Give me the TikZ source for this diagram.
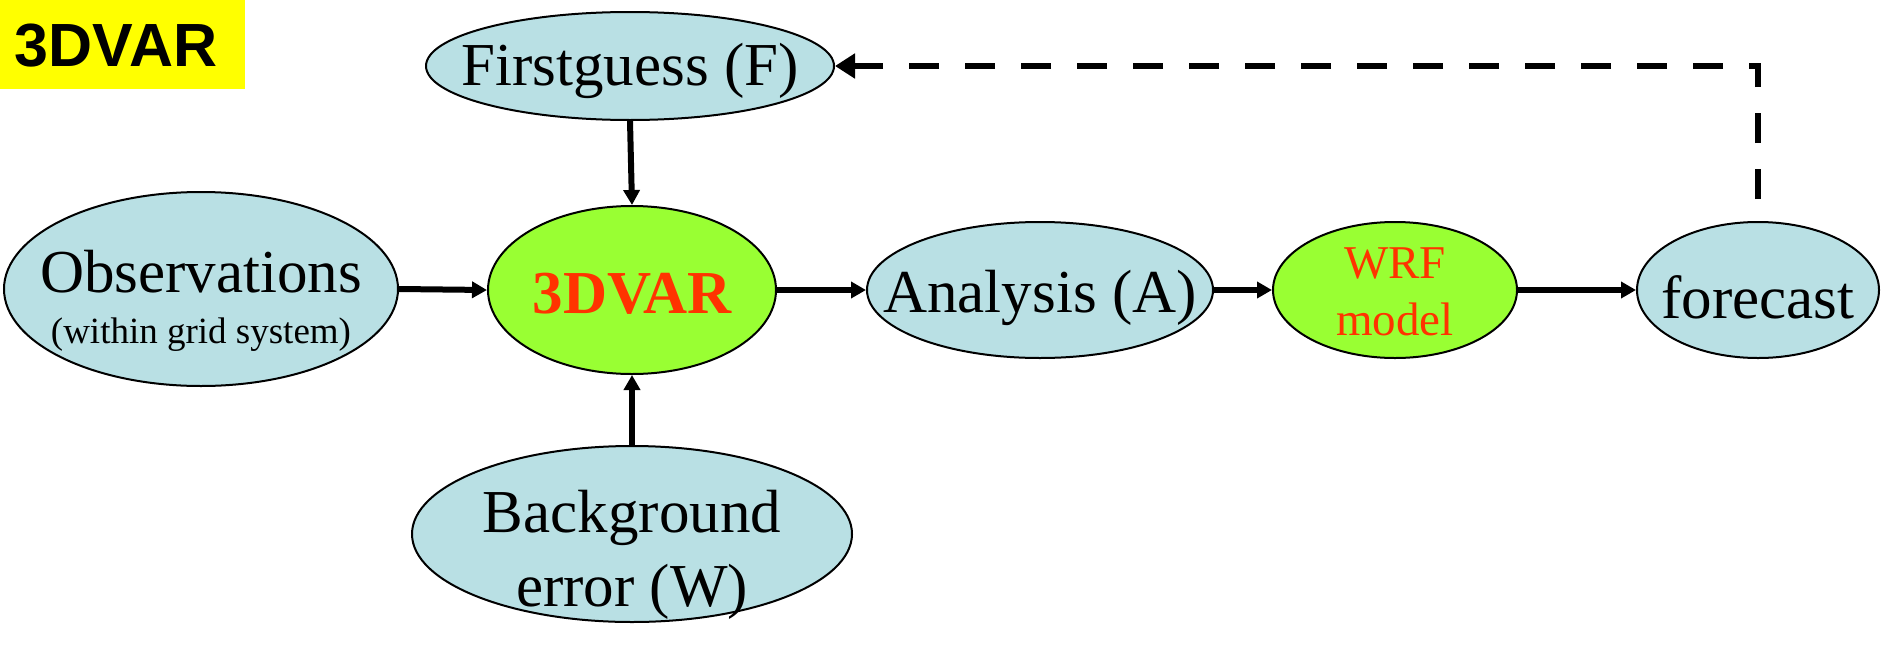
\documentclass[tikz,border=0pt]{standalone}
\usepackage{fontspec}
\setmainfont{Liberation Serif}
\newfontfamily\arialfont{Liberation Sans}
\usetikzlibrary{shapes.geometric,arrows.meta,calc}
\definecolor{lblue}{RGB}{185,224,228}
\definecolor{lgreen}{RGB}{153,255,51}
\definecolor{redtxt}{RGB}{255,51,0}
\definecolor{ybox}{RGB}{255,255,0}
\tikzset{
  blob/.style={ellipse,draw=black,line width=1pt,inner sep=0pt},
  bluebox/.style={blob,fill=lblue},
  greenbox/.style={blob,fill=lgreen},
  lbl/.style={font=\fontsize{30.5}{36}\selectfont,anchor=base,inner sep=0pt},
  smalllbl/.style={font=\fontsize{18.5}{22}\selectfont,anchor=base,inner sep=0pt},
  conn/.style={line width=3pt,-{Triangle[length=7.5pt,width=8pt]}},
  feedback/.style={line width=3.4pt,dash pattern=on 15pt off 13pt,-{Triangle[length=10pt,width=12pt]}}
}
\begin{document}
\begin{tikzpicture}[x=0.5pt,y=-0.5pt]
\useasboundingbox (0,0) rectangle (1883,648);
% title box
\fill[ybox] (0,0) rectangle (245,89);
\node[font=\arialfont\bfseries\fontsize{30.5}{36}\selectfont,anchor=base,inner sep=0pt] (title) at (116,66) {3DVAR};
% ellipses
\node[bluebox,minimum width=204pt,minimum height=54pt] (fg) at (630,66) {};
\node[greenbox,minimum width=144pt,minimum height=84pt] (var) at (632,290) {};
\node[bluebox,minimum width=197pt,minimum height=97pt] (obs) at (201,289) {};
\node[bluebox,minimum width=220pt,minimum height=88pt] (bg) at (632,534) {};
\node[bluebox,minimum width=173pt,minimum height=68pt] (an) at (1040,290) {};
\node[greenbox,minimum width=122pt,minimum height=68pt] (wrf) at (1395,290) {};
\node[bluebox,minimum width=121pt,minimum height=68pt] (fc) at (1758,290) {};
% labels
\node[lbl] (fgt) at (630,85) {Firstguess (F)};
\node[lbl,font=\fontsize{30.5}{36}\selectfont\bfseries,text=redtxt] (vart) at (632,313) {3DVAR};
\node[lbl] (obst) at (201,292) {Observations};
\node[smalllbl] (obss) at (201,343) {(within grid system)};
\node[lbl] (bgt1) at (632,532) {Background};
\node[lbl] (bgt2) at (632,606) {error (W)};
\node[lbl] (ant) at (1040,312) {Analysis (A)};
\node[lbl,font=\fontsize{23.5}{28}\selectfont,text=redtxt] (wrf1) at (1395,278) {WRF};
\node[lbl,font=\fontsize{23.5}{28}\selectfont,text=redtxt] (wrf2) at (1395,335) {model};
\node[lbl] (fct) at (1758,318) {forecast};
% connectors
\draw[conn] (fg.south) -- (var.north);
\draw[conn] (bg.north) -- (var.south);
\draw[conn] (obs.east) -- (var.west);
\draw[conn] (var.east) -- (an.west);
\draw[conn] (an.east) -- (wrf.west);
\draw[conn] (wrf.east) -- (fc.west);
\coordinate (turn) at (fc.center |- fg.east);
\draw[feedback,shorten <=11pt] (fc.north) -- (turn) -- (fg.east);
\end{tikzpicture}
\end{document}
